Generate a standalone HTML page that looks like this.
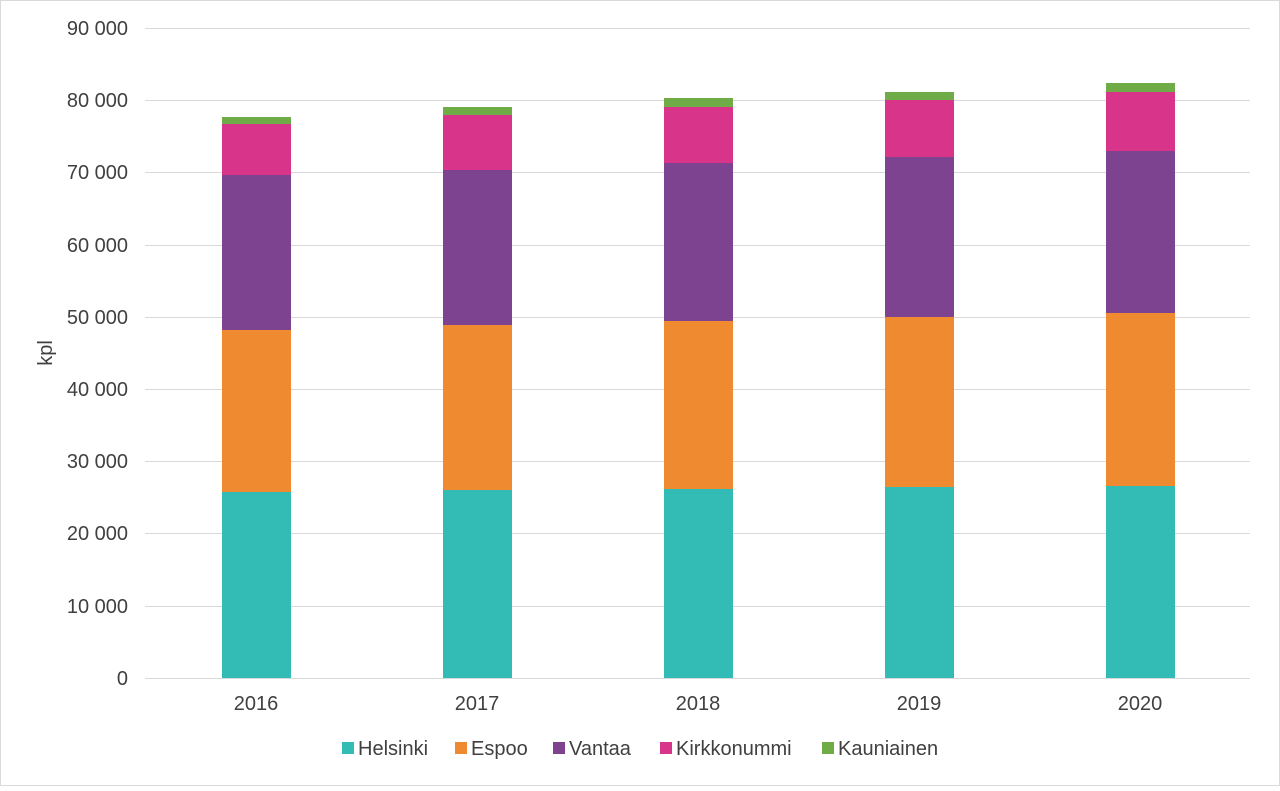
<!DOCTYPE html>
<html><head><meta charset="utf-8"><style>
body{margin:0;background:#fff;}
svg text{font-family:"Liberation Sans",Arial,sans-serif;fill:#404040;}
</style></head><body>
<svg width="1280" height="786" xmlns="http://www.w3.org/2000/svg">
<rect x="0.5" y="0.5" width="1279" height="785" fill="#fff" stroke="#d9d9d9"/>
<g stroke="#d9d9d9" stroke-width="1">
<line x1="145" x2="1250" y1="28.5" y2="28.5"/>
<line x1="145" x2="1250" y1="100.5" y2="100.5"/>
<line x1="145" x2="1250" y1="172.5" y2="172.5"/>
<line x1="145" x2="1250" y1="245.5" y2="245.5"/>
<line x1="145" x2="1250" y1="317.5" y2="317.5"/>
<line x1="145" x2="1250" y1="389.5" y2="389.5"/>
<line x1="145" x2="1250" y1="461.5" y2="461.5"/>
<line x1="145" x2="1250" y1="533.5" y2="533.5"/>
<line x1="145" x2="1250" y1="606.5" y2="606.5"/>
<line x1="145" x2="1250" y1="678.5" y2="678.5"/>
</g>
<g font-size="20" text-anchor="end">
<text x="128" y="35">90 000</text>
<text x="128" y="107">80 000</text>
<text x="128" y="179">70 000</text>
<text x="128" y="252">60 000</text>
<text x="128" y="324">50 000</text>
<text x="128" y="396">40 000</text>
<text x="128" y="468">30 000</text>
<text x="128" y="540">20 000</text>
<text x="128" y="613">10 000</text>
<text x="128" y="685">0</text>
</g>
<text x="52" y="353" font-size="20" text-anchor="middle" transform="rotate(-90 52 353)">kpl</text>
<g>
<rect x="222" y="492" width="69" height="186" fill="#33bbb5"/>
<rect x="222" y="330" width="69" height="162" fill="#f08a31"/>
<rect x="222" y="175" width="69" height="155" fill="#7d4290"/>
<rect x="222" y="124" width="69" height="51" fill="#d8348a"/>
<rect x="222" y="117" width="69" height="7" fill="#6fab47"/>
<rect x="443" y="490" width="69" height="188" fill="#33bbb5"/>
<rect x="443" y="325" width="69" height="165" fill="#f08a31"/>
<rect x="443" y="170" width="69" height="155" fill="#7d4290"/>
<rect x="443" y="115" width="69" height="55" fill="#d8348a"/>
<rect x="443" y="107" width="69" height="8" fill="#6fab47"/>
<rect x="664" y="489" width="69" height="189" fill="#33bbb5"/>
<rect x="664" y="321" width="69" height="168" fill="#f08a31"/>
<rect x="664" y="163" width="69" height="158" fill="#7d4290"/>
<rect x="664" y="107" width="69" height="56" fill="#d8348a"/>
<rect x="664" y="98" width="69" height="9" fill="#6fab47"/>
<rect x="885" y="487" width="69" height="191" fill="#33bbb5"/>
<rect x="885" y="317" width="69" height="170" fill="#f08a31"/>
<rect x="885" y="157" width="69" height="160" fill="#7d4290"/>
<rect x="885" y="100" width="69" height="57" fill="#d8348a"/>
<rect x="885" y="92" width="69" height="8" fill="#6fab47"/>
<rect x="1106" y="486" width="69" height="192" fill="#33bbb5"/>
<rect x="1106" y="313" width="69" height="173" fill="#f08a31"/>
<rect x="1106" y="151" width="69" height="162" fill="#7d4290"/>
<rect x="1106" y="92" width="69" height="59" fill="#d8348a"/>
<rect x="1106" y="83" width="69" height="9" fill="#6fab47"/>
</g>
<g font-size="20" text-anchor="middle">
<text x="256" y="710">2016</text>
<text x="477" y="710">2017</text>
<text x="698" y="710">2018</text>
<text x="919" y="710">2019</text>
<text x="1140" y="710">2020</text>
</g>
<g font-size="20">
<rect x="342" y="742" width="12" height="12" fill="#33bbb5"/><text x="358" y="755">Helsinki</text>
<rect x="455" y="742" width="12" height="12" fill="#f08a31"/><text x="471" y="755">Espoo</text>
<rect x="553" y="742" width="12" height="12" fill="#7d4290"/><text x="569" y="755">Vantaa</text>
<rect x="660" y="742" width="12" height="12" fill="#d8348a"/><text x="676" y="755">Kirkkonummi</text>
<rect x="822" y="742" width="12" height="12" fill="#6fab47"/><text x="838" y="755">Kauniainen</text>
</g>
</svg>
</body></html>
